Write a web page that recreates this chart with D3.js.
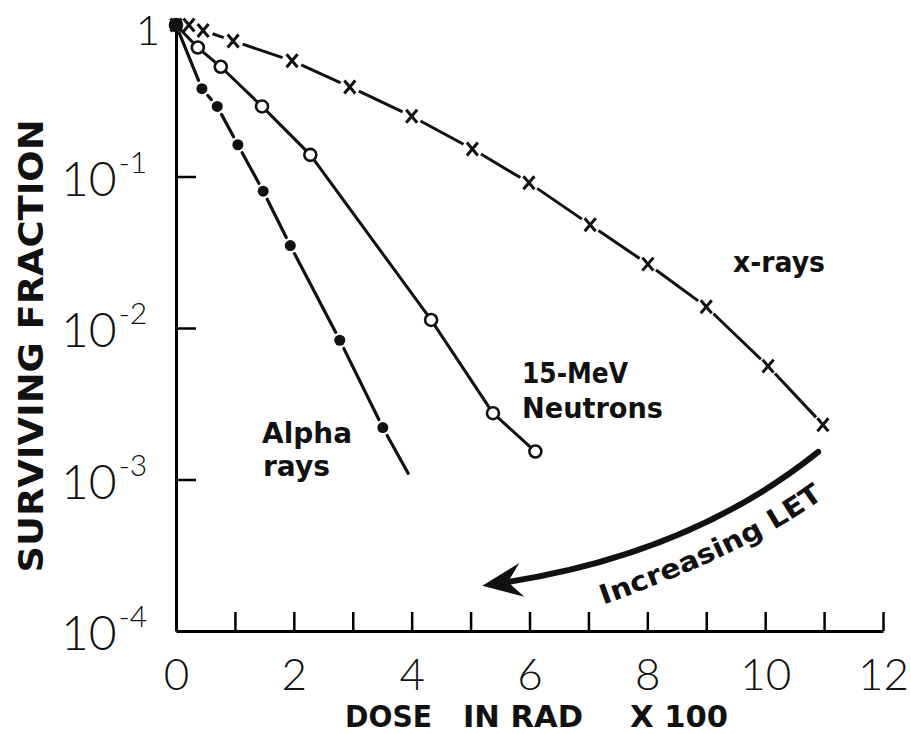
<!DOCTYPE html>
<html><head><meta charset="utf-8">
<script src="https://cdn.jsdelivr.net/npm/d3@7"></script>
<style>body{margin:0;background:#fff}svg{display:block}</style>
</head><body>
<svg id="chart" width="911" height="734"></svg>
<script>
// ---- data ----
const xrayDose = [0, 0.22, 0.46, 0.97, 1.97, 2.95, 4.0, 5.03, 5.99, 7.03, 8.01, 9.0, 10.05, 10.98];
const xraySurv = [1, 1.0, 0.92, 0.785, 0.58, 0.39, 0.25, 0.152, 0.091, 0.048, 0.0264, 0.0138, 0.0056, 0.0023];
const neutronDose = [0, 0.37, 0.76, 1.46, 2.28, 4.33, 5.38, 6.1];
const neutronSurv = [1, 0.71, 0.53, 0.29, 0.139, 0.0113, 0.00274, 0.00153];
const alphaDose = [0, 0.44, 0.70, 1.05, 1.48, 1.94, 2.78, 3.51];
const alphaSurv = [1, 0.38, 0.29, 0.162, 0.08, 0.035, 0.0083, 0.0022];
const alphaLineEndDose = 3.94;
const alphaLineEndSurv = 0.0011;
const xTickValues = [0,1,2,3,4,5,6,7,8,9,10,11,12];
const xTickLabels = ["0","","2","","4","","6","","8","","10","","12"];
const yTickValues = [1, 1e-1, 1e-2, 1e-3, 1e-4];
const yTickBase = ["1", "10", "10", "10", "10"];
const yTickExp = ["", "-1", "-2", "-3", "-4"];
const xTitleWords = ["DOSE", "IN RAD", "X 100"];
const yTitle = "SURVIVING FRACTION";
const seriesLabels = ["x-rays", "15-MeV", "Neutrons", "Alpha", "rays"];
const letLabel = "Increasing LET";
// annotation arrow anchors in data coordinates (dose, surviving fraction)
const arrowDose = [10.9, 8.72, 5.5];
const arrowSurv = [1.52e-3, 3.17e-4, 2.07e-4];
const letPathDose = [7.25, 10.0, 11.2];
const letPathSurv = [1.49e-4, 3.6e-4, 8.8e-4];

// ---- setup ----
const svg = d3.select("#chart");
const x = d3.scaleLinear().domain([0, 12]).range([176, 883]);
const y = d3.scaleLog().domain([1e-4, 1]).range([631, 25]);
const numFont = "Lato, 'Open Sans', sans-serif";
const labFont = "'DejaVu Sans', sans-serif";

// ---- axes ----
const gx = svg.append("g").attr("transform", `translate(0,${y(1e-4)})`)
  .call(d3.axisBottom(x).tickValues(xTickValues).tickSizeInner(-19).tickSizeOuter(0)
    .tickPadding(28).tickFormat((d, i) => xTickLabels[i]));
gx.select(".domain").attr("stroke-width", 3);
gx.selectAll(".tick line").attr("stroke-width", 2.5);
gx.selectAll(".tick text").attr("font-family", numFont).attr("font-weight", 300)
  .attr("font-size", 44).attr("fill", "#111");

const gy = svg.append("g").attr("transform", `translate(${x(0)},0)`)
  .call(d3.axisLeft(y).tickValues([1e-1, 1e-2, 1e-3]).tickSizeInner(-20).tickSizeOuter(0)
    .tickFormat(() => ""));
gy.select(".domain").attr("stroke-width", 3);
gy.selectAll(".tick line").attr("stroke-width", 2.5);

// y tick labels with superscripts
const yl = svg.append("g").attr("font-family", numFont).attr("font-weight", 300).attr("fill", "#111");
yTickValues.forEach((v, i) => {
  if (i === 0) {
    yl.append("text").attr("x", 148).attr("y", y(v) + 20).attr("text-anchor", "middle")
      .attr("font-size", 42).text(yTickBase[i]);
  } else {
    const t = yl.append("text").attr("x", 61).attr("y", y(v) + 19).attr("font-size", 48);
    t.append("tspan").text(yTickBase[i]);
    t.append("tspan").attr("dx", 2).attr("dy", -23).attr("font-size", 30).text(yTickExp[i]);
  }
});

// axis titles
const xt = svg.append("g").attr("font-family", labFont).attr("font-weight", "bold")
  .attr("font-size", 31).attr("fill", "#111");
const xtPos = [[345, 87], [463, 120], [630, 98]];
xTitleWords.forEach((w, i) => {
  xt.append("text").attr("x", xtPos[i][0]).attr("y", 727)
    .attr("textLength", xtPos[i][1]).attr("lengthAdjust", "spacingAndGlyphs").text(w);
});
svg.append("text").attr("transform", "translate(43,346) rotate(-90)")
  .attr("text-anchor", "middle").attr("font-family", labFont).attr("font-weight", "bold")
  .attr("font-size", 33).attr("fill", "#111")
  .attr("textLength", 453).attr("lengthAdjust", "spacingAndGlyphs").text(yTitle);

// ---- series ----
function gappedSegments(px, gapStart, gapEnd) {
  const segs = [];
  for (let i = 0; i < px.length - 1; i++) {
    const [x0, y0] = px[i], [x1, y1] = px[i + 1];
    const dx = x1 - x0, dy = y1 - y0, L = Math.hypot(dx, dy);
    const g0 = gapStart(i), g1 = gapEnd(i);
    if (L <= g0 + g1 + 2) continue;
    const ux = dx / L, uy = dy / L;
    segs.push([[x0 + ux * g0, y0 + uy * g0], [x1 - ux * g1, y1 - uy * g1]]);
  }
  return segs;
}
const lineGen = d3.line();
const plot = svg.append("g");

// x-rays
const xrayPx = xrayDose.map((d, i) => [x(d), y(xraySurv[i])]);
plot.append("g").selectAll("path").data(gappedSegments(xrayPx, () => 10, () => 10)).join("path")
  .attr("d", lineGen).attr("stroke", "#111").attr("stroke-width", 3).attr("fill", "none");
plot.append("g").selectAll("path").data(xrayPx).join("path")
  .attr("d", ([cx, cy]) => `M${cx - 5.5},${cy - 6.5}L${cx + 5.5},${cy + 6.5}M${cx - 5.5},${cy + 6.5}L${cx + 5.5},${cy - 6.5}`)
  .attr("stroke", "#111").attr("stroke-width", 3).attr("fill", "none");

// neutrons
const neutronPx = neutronDose.map((d, i) => [x(d), y(neutronSurv[i])]);
plot.append("path").attr("d", lineGen(neutronPx)).attr("stroke", "#111").attr("stroke-width", 3).attr("fill", "none");
plot.append("g").selectAll("circle").data(neutronPx).join("circle")
  .attr("cx", d => d[0]).attr("cy", d => d[1]).attr("r", 6)
  .attr("fill", "#fff").attr("stroke", "#111").attr("stroke-width", 2.6);

// alpha
const alphaPx = alphaDose.map((d, i) => [x(d), y(alphaSurv[i])]);
const alphaLinePx = alphaPx.concat([[x(alphaLineEndDose), y(alphaLineEndSurv)]]);
plot.append("g").selectAll("path")
  .data(gappedSegments(alphaLinePx, () => 9, i => (i === alphaLinePx.length - 2 ? 0 : 9))).join("path")
  .attr("d", lineGen).attr("stroke", "#111").attr("stroke-width", 3.2).attr("fill", "none")
  .attr("stroke-linecap", "round");
plot.append("g").selectAll("circle").data(alphaPx).join("circle")
  .attr("cx", d => d[0]).attr("cy", d => d[1]).attr("r", 5.5).attr("fill", "#111");

// ---- series labels ----
const lab = svg.append("g").attr("font-family", labFont).attr("font-weight", 600)
  .attr("font-size", 28).attr("fill", "#111");
const labPos = [[733, 272, 92], [522, 383, 106], [522, 418, 141], [262, 443, 90], [263, 476, 67]];
seriesLabels.forEach((s, i) => {
  lab.append("text").attr("x", labPos[i][0]).attr("y", labPos[i][1])
    .attr("textLength", labPos[i][2]).attr("lengthAdjust", "spacingAndGlyphs").text(s);
});

// ---- Increasing LET arrow ----
const aP = arrowDose.map((d, i) => [x(d), y(arrowSurv[i])]);
const shaft = d3.path();
shaft.moveTo(aP[0][0], aP[0][1]);
shaft.quadraticCurveTo(aP[1][0], aP[1][1], aP[2][0], aP[2][1]);
svg.append("path").attr("d", shaft.toString()).attr("stroke", "#111").attr("stroke-width", 6)
  .attr("fill", "none").attr("stroke-linecap", "round");
const ex = aP[2][0] - aP[1][0], ey = aP[2][1] - aP[1][1], eL = Math.hypot(ex, ey);
const ux = ex / eL, uy = ey / eL, nx = -uy, ny = ux;
const tip = [aP[2][0] + ux * 18, aP[2][1] + uy * 18];
const back = [tip[0] - ux * 40, tip[1] - uy * 40];
const notch = [tip[0] - ux * 26, tip[1] - uy * 26];
const head = [tip, [back[0] + nx * 17, back[1] + ny * 17], notch, [back[0] - nx * 17, back[1] - ny * 17]];
svg.append("path").attr("d", d3.line()(head) + "Z").attr("fill", "#111");

// text along curve
const lP = letPathDose.map((d, i) => [x(d), y(letPathSurv[i])]);
const tp = d3.path();
tp.moveTo(lP[0][0], lP[0][1]);
tp.quadraticCurveTo(lP[1][0], lP[1][1], lP[2][0], lP[2][1]);
svg.append("defs").append("path").attr("id", "letPath").attr("d", tp.toString());
svg.append("text").attr("font-family", labFont).attr("font-weight", 600).attr("font-size", 27)
  .attr("fill", "#111").attr("textLength", 246).attr("lengthAdjust", "spacingAndGlyphs")
  .append("textPath").attr("href", "#letPath").text(letLabel);
</script>
</body></html>
